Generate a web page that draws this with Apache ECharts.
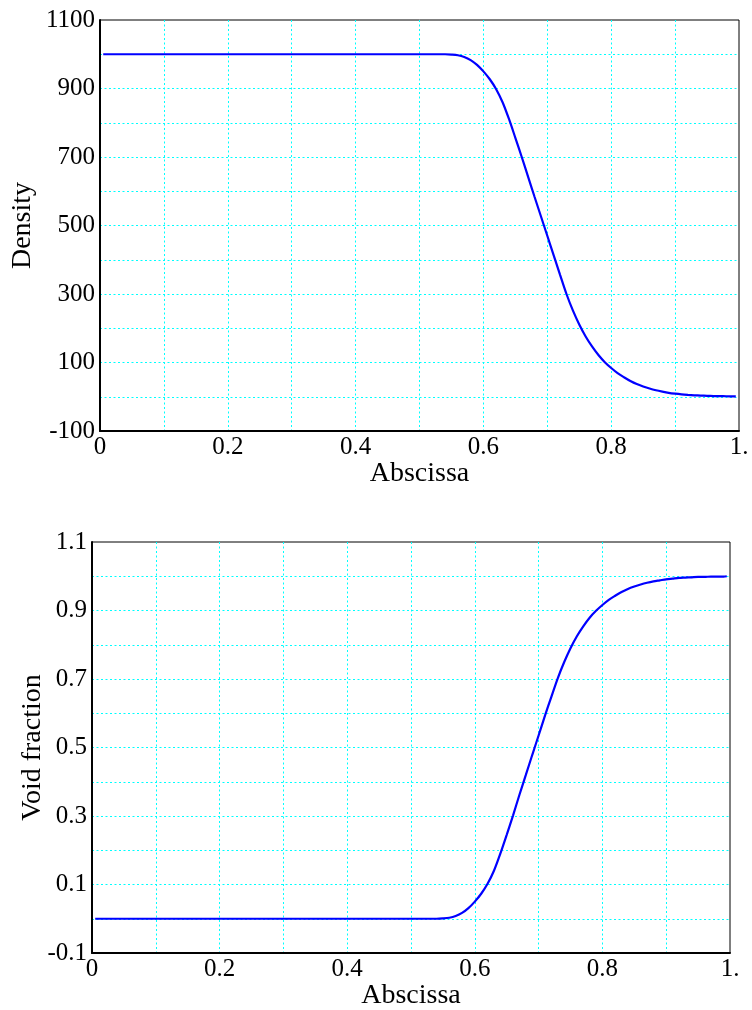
<!DOCTYPE html>
<html>
<head>
<meta charset="utf-8">
<script src="https://cdn.jsdelivr.net/npm/echarts@6/dist/echarts.min.js"></script>
<style>
html,body{margin:0;padding:0;background:#fff;}
#main{width:752px;height:1010px;}
</style>
</head>
<body>
<div id="main"></div>
<script>
// Abscissa positions of the read points
var abscissa = [0.005, 0.1, 0.2, 0.3, 0.4, 0.5, 0.51, 0.52, 0.53, 0.54, 0.55, 0.56, 0.57, 0.58, 0.59,
  0.60, 0.61, 0.62, 0.63, 0.64, 0.65, 0.66, 0.67, 0.68, 0.69,
  0.70, 0.71, 0.72, 0.73, 0.74, 0.75, 0.76, 0.77, 0.78, 0.79,
  0.80, 0.81, 0.82, 0.83, 0.84, 0.85, 0.86, 0.87, 0.88, 0.89,
  0.90, 0.91, 0.92, 0.93, 0.94, 0.95, 0.96, 0.97, 0.98, 0.99, 0.995];
// Density values (top plot)
var density = [1000, 1000, 1000, 1000, 1000, 1000, 1000, 1000, 1000, 1000, 999, 997, 992, 983, 969,
  950, 927, 898, 860, 811, 756, 700, 642, 584, 527,
  470, 413, 356, 300, 252, 211, 176, 147, 122, 101,
  84, 69, 57, 46, 37, 30, 24, 19, 15, 11.5,
  9, 7, 5.5, 4.3, 3.4, 2.7, 2.1, 1.7, 1.4, 1.2, 1.1];
// Void fraction values (bottom plot)
var voidFraction = [0, 0, 0, 0, 0, 0, 0, 0, 0, 0, 0.001, 0.003, 0.008, 0.017, 0.031,
  0.050, 0.073, 0.102, 0.140, 0.190, 0.245, 0.302, 0.362, 0.420, 0.478,
  0.535, 0.593, 0.648, 0.702, 0.749, 0.790, 0.825, 0.854, 0.879, 0.899,
  0.916, 0.931, 0.943, 0.954, 0.963, 0.970, 0.976, 0.981, 0.985, 0.988,
  0.991, 0.993, 0.995, 0.996, 0.997, 0.998, 0.998, 0.999, 0.999, 0.999, 1.0];

// Tick labels
var xTickValues = [0, 0.2, 0.4, 0.6, 0.8, 1.0];
var xTickLabels = ['0', '0.2', '0.4', '0.6', '0.8', '1.'];
var densityTickValues = [-100, 100, 300, 500, 700, 900, 1100];
var densityTickLabels = ['-100', '100', '300', '500', '700', '900', '1100'];
var voidTickValues = [-0.1, 0.1, 0.3, 0.5, 0.7, 0.9, 1.1];
var voidTickLabels = ['-0.1', '0.1', '0.3', '0.5', '0.7', '0.9', '1.1'];

function labelFor(values, labels, tol) {
  return function (v) {
    for (var i = 0; i < values.length; i++) {
      if (Math.abs(values[i] - v) < tol) return labels[i];
    }
    return '';
  };
}

var FONT = 'Liberation Serif';
var gridLine = { show: true, showMinLine: false, showMaxLine: false, lineStyle: { color: '#00ffff', width: 1, type: [2, 2.5] } };
var axisLine = { show: true, onZero: false, lineStyle: { color: '#000', width: 2 } };
var tickLabelStyle = { color: '#000', fontFamily: FONT, fontSize: 25 };
var nameStyle = { color: '#000', fontFamily: FONT, fontSize: 28 };

function xAxisCfg(gridIndex) {
  return {
    type: 'value', gridIndex: gridIndex, min: 0, max: 1, interval: 0.1,
    name: 'Abscissa', nameLocation: 'middle', nameGap: 29, nameMoveOverlap: false, nameTextStyle: nameStyle,
    axisLine: axisLine, axisTick: { show: false },
    axisLabel: Object.assign({ margin: 4, hideOverlap: false, formatter: labelFor(xTickValues, xTickLabels, 1e-6) }, tickLabelStyle),
    splitLine: gridLine
  };
}

var chart = echarts.init(document.getElementById('main'), null, { renderer: 'canvas' });
chart.setOption({
  backgroundColor: '#fff',
  animation: false,
  grid: [
    { left: 100, top: 20, width: 639, height: 411, containLabel: false, outerBoundsMode: 'none', show: true, borderColor: '#000', borderWidth: 1, backgroundColor: 'transparent' },
    { left: 92, top: 542, width: 638, height: 411, containLabel: false, outerBoundsMode: 'none', show: true, borderColor: '#000', borderWidth: 1, backgroundColor: 'transparent' }
  ],
  xAxis: [xAxisCfg(0), xAxisCfg(1)],
  yAxis: [
    {
      type: 'value', gridIndex: 0, min: -100, max: 1100, interval: 100,
      name: 'Density', nameLocation: 'middle', nameGap: 63, nameMoveOverlap: false, nameTextStyle: nameStyle,
      axisLine: axisLine, axisTick: { show: false },
      axisLabel: Object.assign({ margin: 5, padding: [4, 0, 0, 0], formatter: labelFor(densityTickValues, densityTickLabels, 1e-3) }, tickLabelStyle),
      splitLine: gridLine
    },
    {
      type: 'value', gridIndex: 1, min: -0.1, max: 1.1, interval: 0.1,
      name: 'Void fraction', nameLocation: 'middle', nameGap: 45, nameMoveOverlap: false, nameTextStyle: nameStyle,
      axisLine: axisLine, axisTick: { show: false },
      axisLabel: Object.assign({ margin: 5, padding: [4, 0, 0, 0], formatter: labelFor(voidTickValues, voidTickLabels, 1e-6) }, tickLabelStyle),
      splitLine: gridLine
    }
  ],
  series: [
    {
      type: 'line', xAxisIndex: 0, yAxisIndex: 0, showSymbol: false, smooth: 0.3,
      lineStyle: { color: '#0000ff', width: 2.2 },
      data: abscissa.map(function (x, i) { return [x, density[i]]; })
    },
    {
      type: 'line', xAxisIndex: 1, yAxisIndex: 1, showSymbol: false, smooth: 0.3,
      lineStyle: { color: '#0000ff', width: 2.2 },
      data: abscissa.map(function (x, i) { return [x, voidFraction[i]]; })
    }
  ]
});
</script>
</body>
</html>
